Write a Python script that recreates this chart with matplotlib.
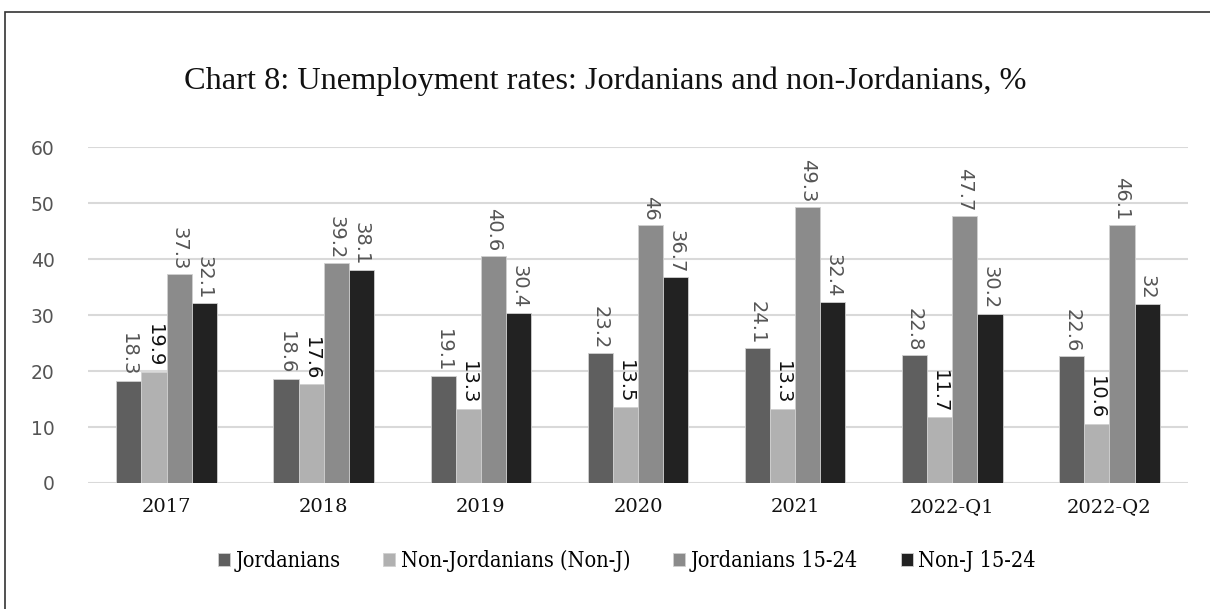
'''
Chart 8: taxas de desemprego, jordanianos e não jordanianos
'''

import numpy as np
import matplotlib.pyplot as plt
from matplotlib.patches import Rectangle

# dados

CATEGORIES = ["2017", "2018", "2019", "2020", "2021", "2022-Q1", "2022-Q2"]
JORDANIANS = [18.3, 18.6, 19.1, 23.2, 24.1, 22.8, 22.6]
NON_J = [19.9, 17.6, 13.3, 13.5, 13.3, 11.7, 10.6]
JORDANIANS_15_24 = [37.3, 39.2, 40.6, 46, 49.3, 47.7, 46.1]
NON_J_15_24 = [32.1, 38.1, 30.4, 36.7, 32.4, 30.2, 32]

SERIES = [
    ("Jordanians", JORDANIANS, "#5f5f5f", "#555555"),
    ("Non-Jordanians (Non-J)", NON_J, "#b1b1b1", "#111111"),
    ("Jordanians 15-24", JORDANIANS_15_24, "#8b8b8b", "#555555"),
    ("Non-J 15-24", NON_J_15_24, "#222222", "#555555"),
]

if __name__ == "__main__":
    fig = plt.figure(figsize=(12.1, 6.09), dpi=100)
    ax = fig.add_axes([0.0727, 0.2069, 0.9091, 0.5517])

    x = np.arange(len(CATEGORIES))
    width = 0.16

    for i, (name, values, color, label_color) in enumerate(SERIES):
        pos = x + (i - 1.5) * width
        ax.bar(pos, values, width, color=color, edgecolor="#d0d0d0",
               linewidth=0.6, label=name, zorder=3)
        for xp, v in zip(pos, values):
            ax.annotate(f"{v:g}", (xp, v), xytext=(0, 3), textcoords="offset points",
                        rotation=270, ha="center", va="bottom", fontsize=14,
                        color=label_color)

    ax.set_xlim(-0.5, len(CATEGORIES) - 0.5)
    ax.set_ylim(0, 60)
    ax.set_yticks(range(0, 61, 10))
    ax.set_xticks(x)
    ax.set_xticklabels(CATEGORIES, fontfamily="DejaVu Serif", fontsize=14, color="#111111")
    for lab in ax.get_yticklabels():
        lab.set_fontfamily("DejaVu Sans")
        lab.set_fontsize(13.5)
        lab.set_color("#555555")
    ax.tick_params(axis="both", length=0)
    ax.tick_params(axis="x", pad=11)
    ax.tick_params(axis="y", pad=24)
    ax.grid(axis="y", color="#d9d9d9", linewidth=1.5, zorder=0)
    for s in ax.spines.values():
        s.set_visible(False)

    fig.text(0.5, 0.866, "Chart 8: Unemployment rates: Jordanians and non-Jordanians, %",
             ha="center", va="center", fontsize=23.3, fontfamily="Liberation Serif",
             color="#111111")

    fig.legend(loc="center", bbox_to_anchor=(0.518, 0.079), ncol=4, frameon=False,
               handlelength=0.55, handleheight=0.55, handletextpad=0.25, columnspacing=2.0,
               prop={"family": ["DejaVu Serif"], "stretch": "condensed", "size": 15.5})

    # moldura
    fig.patches.append(Rectangle((5 / 1210, -0.1), 1.2, 1 - 12 / 609 + 0.1,
                                 transform=fig.transFigure, fill=False,
                                 edgecolor="#333333", linewidth=1.2))

    fig.savefig("out.png", dpi=100)
